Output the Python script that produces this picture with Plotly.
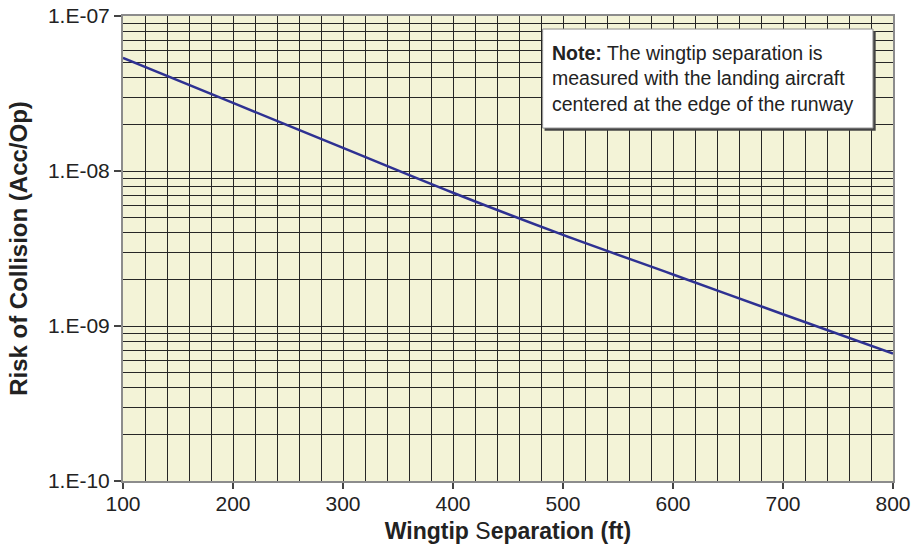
import plotly.graph_objects as go

# Data
separation_ft = [100, 200, 300, 400, 500, 600, 700, 800]
risk = [5.37e-8, 2.75e-8, 1.41e-8, 7.24e-9, 3.87e-9, 2.15e-9, 1.19e-9, 6.64e-10]

y_tickvals = [1e-10, 1e-9, 1e-8, 1e-7]
y_ticktext = ["1.E-10", "1.E-09", "1.E-08", "1.E-07"]
x_tickvals = [100, 200, 300, 400, 500, 600, 700, 800]

note_text = ("<b>Note:</b> The wingtip separation is<br>"
             "measured with the landing aircraft<br>"
             "centered at the edge of the runway")

FONT = "Liberation Sans, Arial, sans-serif"
GRID = "#262626"
AXIS = "#8c8c8c"
TXT = "#222222"

fig = go.Figure()
fig.add_trace(go.Scatter(
    x=separation_ft, y=risk, mode="lines",
    line=dict(color="#2e3192", width=2.5, shape="spline"),
    showlegend=False, hoverinfo="skip"))

fig.update_layout(
    width=914, height=557,
    margin=dict(l=123, r=21, t=16, b=76),
    paper_bgcolor="white",
    plot_bgcolor="#f3f3d7",
    font=dict(family=FONT, size=21, color=TXT),
    showlegend=False,
)

fig.update_xaxes(
    range=[100, 800], tickvals=x_tickvals, automargin=False,
    ticks="outside", ticklen=6, tickcolor="#444444", tickwidth=1.5,
    ticklabelstandoff=-3,
    showgrid=True, gridcolor=GRID, gridwidth=1.3,
    minor=dict(dtick=20, showgrid=True, gridcolor=GRID, gridwidth=1.3, ticks=""),
    showline=True, linecolor=AXIS, linewidth=2, mirror=True,
    tickfont=dict(size=21, family=FONT, color=TXT),
    title=dict(text="<b>Wingtip </b>S<b>eparation (ft)</b>",
               font=dict(size=23, family=FONT, color=TXT), standoff=9),
    zeroline=False,
)

fig.update_yaxes(
    type="log", range=[-10, -7], tickvals=y_tickvals, ticktext=y_ticktext,
    automargin=False,
    ticks="outside", ticklen=7, tickcolor="#444444", tickwidth=1.5,
    showgrid=True, gridcolor=GRID, gridwidth=1.3,
    minor=dict(dtick="D1", showgrid=True, gridcolor=GRID, gridwidth=1.3, ticks=""),
    showline=True, linecolor=AXIS, linewidth=2, mirror=True,
    tickfont=dict(size=21, family=FONT, color=TXT),
    title=dict(text="<b>Risk of Collision (Acc/Op)</b>",
               font=dict(size=24, family=FONT, color=TXT), standoff=14),
    zeroline=False,
)

# Note box: shadow + white box
fig.add_shape(type="rect", xref="paper", yref="paper",
              x0=0.5475, x1=0.9775, y0=0.753, y1=0.967,
              fillcolor="#444444", line=dict(width=0), layer="above")
fig.add_shape(type="rect", xref="paper", yref="paper",
              x0=0.545, x1=0.974, y0=0.759, y1=0.972,
              fillcolor="white", line=dict(color="#8c8c8c", width=1), layer="above")
fig.add_annotation(xref="paper", yref="paper", x=0.554, y=0.8655,
                   xanchor="left", yanchor="middle", align="left",
                   text=note_text, showarrow=False,
                   font=dict(size=19.5, family=FONT, color=TXT))

fig.write_html("out.html", config={"displayModeBar": False},
               post_script="document.body.style.margin='0';document.body.style.overflow='hidden';")
